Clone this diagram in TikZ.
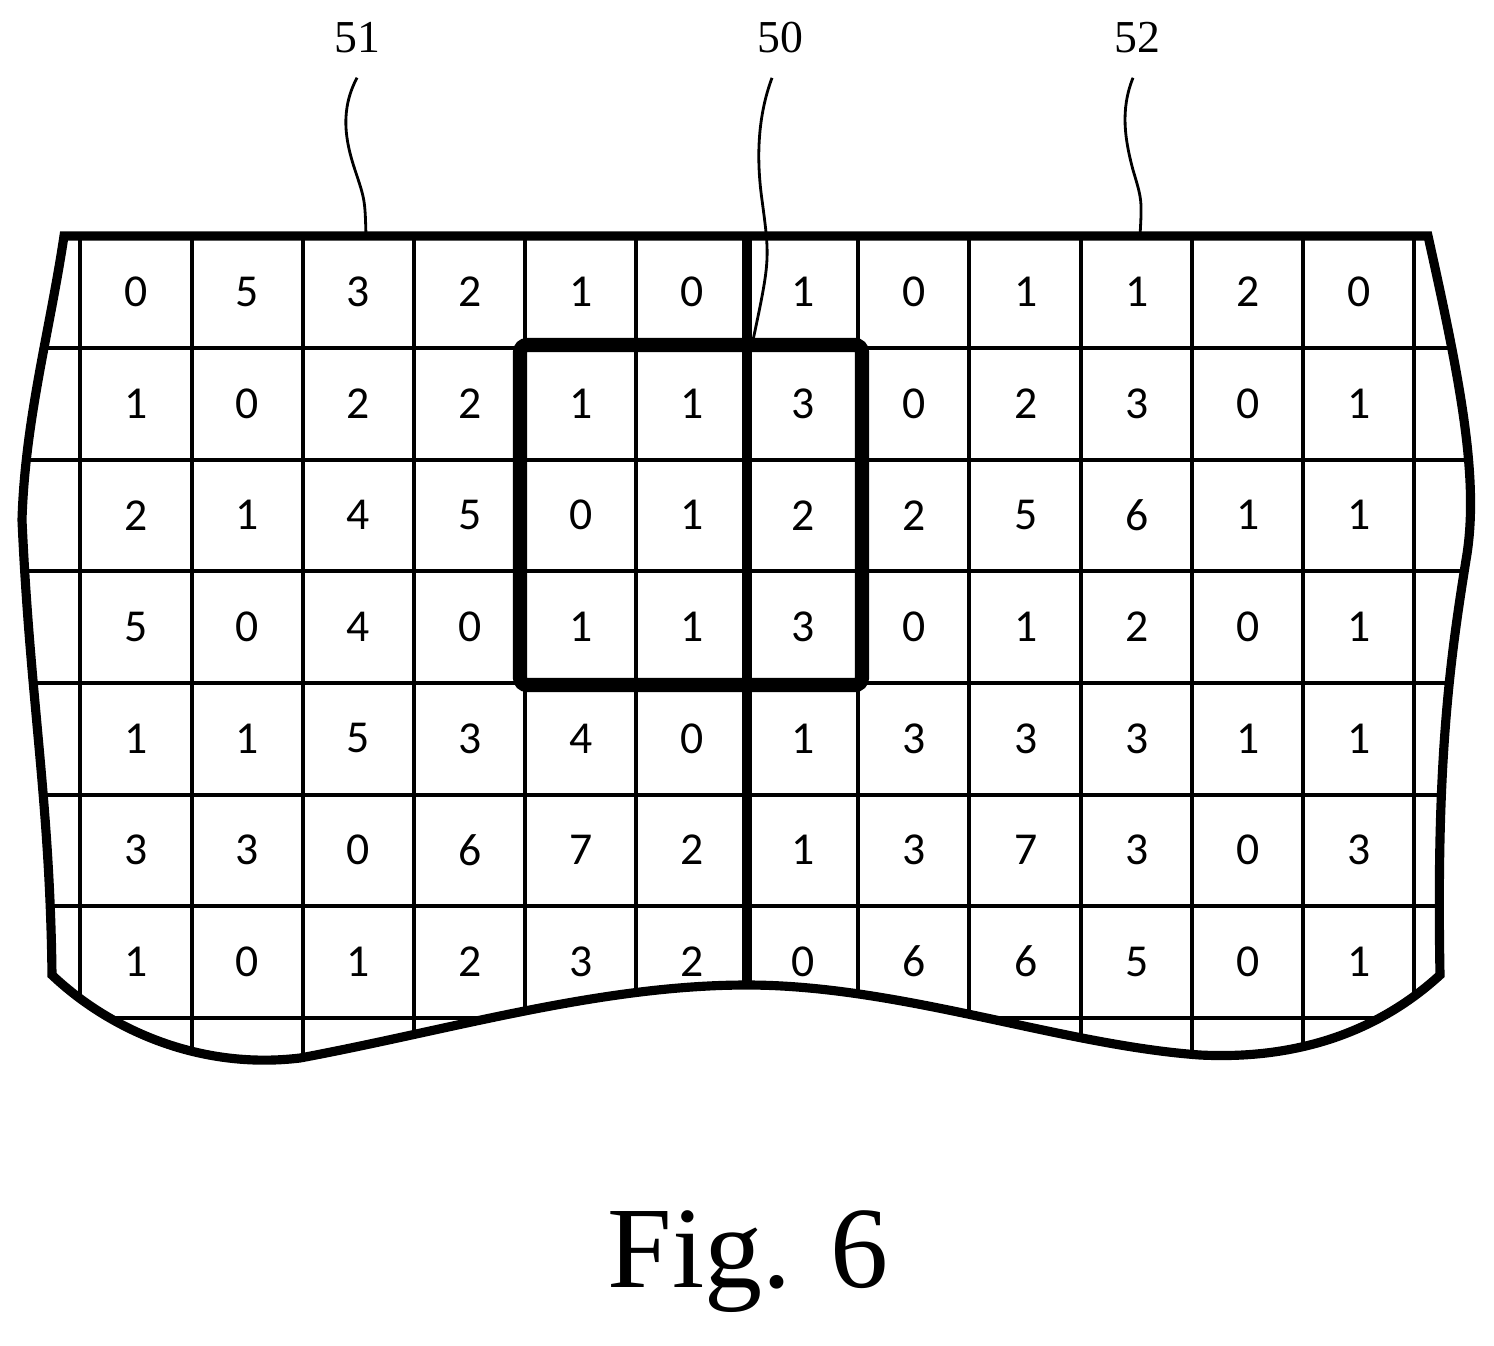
\documentclass[tikz,border=0pt]{standalone}
\usepackage{fontspec}
\setmainfont{Liberation Serif}
\newfontfamily\cellfont{Carlito}
\begin{document}
\begin{tikzpicture}[x=0.01cm,y=-0.01cm]
\tikzset{cell/.style={draw=none,font=\cellfont\fontsize{13}{13}\selectfont},
         ref/.style={draw=none,font=\fontsize{13}{13}\selectfont}}
\useasboundingbox (0,0) rectangle (1494,1345);

% grid clipped to the torn outline
\begin{scope}
\clip (64,236) -- (1428,236) .. controls (1460,380) and (1480,480) .. (1466,560)
 .. controls (1450,660) and (1436,760) .. (1440,975)
 .. controls (1380,1030) and (1300,1060) .. (1200,1055)
 .. controls (1060,1045) and (900,985) .. (747,985)
 .. controls (600,985) and (450,1030) .. (300,1058)
 .. controls (200,1070) and (110,1030) .. (52,975)
 .. controls (50,800) and (30,700) .. (22,520)
 .. controls (25,420) and (50,330) .. (64,236) -- cycle;
\foreach \x in {80,192,303,414,525,636,858,969,1081,1192,1303,1414}
  \draw[line width=1.2pt] (\x,236) -- (\x,1100);
\foreach \y in {348,460,571,683,795,906,1018}
  \draw[line width=1.2pt] (0,\y) -- (1494,\y);
\end{scope}

% outline
\draw[line width=2.6pt] (64,236) -- (1428,236) .. controls (1460,380) and (1480,480) .. (1466,560)
 .. controls (1450,660) and (1436,760) .. (1440,975)
 .. controls (1380,1030) and (1300,1060) .. (1200,1055)
 .. controls (1060,1045) and (900,985) .. (747,985)
 .. controls (600,985) and (450,1030) .. (300,1058)
 .. controls (200,1070) and (110,1030) .. (52,975)
 .. controls (50,800) and (30,700) .. (22,520)
 .. controls (25,420) and (50,330) .. (64,236) -- cycle;
\coordinate (mtop) at (747,236);
\coordinate (mbot) at (747,985);
\draw[line width=2.6pt] (mtop) -- (mbot);

% window
\draw[line width=4pt,rounded corners=2pt] (520,345) rectangle (862,685);

% values
\foreach \row [count=\r] in {{0,5,3,2,1,0,1,0,1,1,2,0},{1,0,2,2,1,1,3,0,2,3,0,1},
  {2,1,4,5,0,1,2,2,5,6,1,1},{5,0,4,0,1,1,3,0,1,2,0,1},{1,1,5,3,4,0,1,3,3,3,1,1},
  {3,3,0,6,7,2,1,3,7,3,0,3},{1,0,1,2,3,2,0,6,6,5,0,1}}
  \foreach \v [count=\c] in \row
    \node[cell] (v\r-\c) at ({136+111.2*(\c-1)},{292+111.6*(\r-1)}) {\v};

% reference numerals
\node[ref] (l51) at (357,38) {51};
\node[ref] (l50) at (780,38) {50};
\node[ref] (l52) at (1137,38) {52};
\coordinate (e51) at (366,236);
\coordinate (e50) at (752,345);
\coordinate (e52) at (1140,236);
\draw[line width=0.8pt] (l51.south) ++(0,12) .. controls (340,110) and (345,140) .. (355,170) .. controls (365,200) .. (e51);
\draw[line width=0.8pt] (l50.south) ++(-8,12) .. controls (760,110) and (755,150) .. (762,200) .. controls (770,260) .. (e50);
\draw[line width=0.8pt] (l52.south) ++(-4,12) .. controls (1120,110) and (1125,140) .. (1133,170) .. controls (1142,200) .. (e52);

\node[draw=none,font=\fontsize{33}{33}\selectfont] (fig) at (748,1262) {Fig. 6};
\end{tikzpicture}
\end{document}
